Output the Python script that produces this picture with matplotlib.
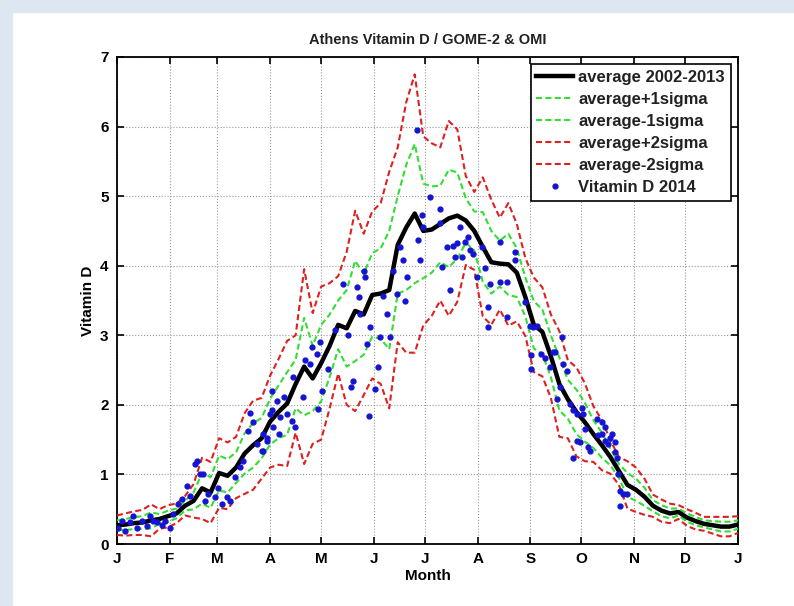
import matplotlib
matplotlib.use("Agg")
import matplotlib.pyplot as plt
import numpy as np

plt.rcParams['font.family'] = ['Liberation Sans', 'DejaVu Sans']

# average 2002-2013 and its sigma, read every 5 days (day of year)
days = list(range(0, 366, 5))
avg = [0.27, 0.28, 0.30, 0.31, 0.34, 0.36, 0.40, 0.44, 0.55, 0.62,
       0.80, 0.74, 1.02, 0.98, 1.10, 1.30, 1.42, 1.52, 1.76, 1.90,
       2.02, 2.30, 2.55, 2.38, 2.60, 2.85, 3.15, 3.10, 3.35, 3.30,
       3.58, 3.60, 3.65, 4.30, 4.55, 4.75, 4.50, 4.52, 4.60, 4.68,
       4.72, 4.65, 4.50, 4.27, 4.05, 4.03, 4.02, 3.90, 3.55, 3.15,
       3.05, 2.70, 2.30, 2.08, 1.90, 1.75, 1.58, 1.42, 1.25, 1.05,
       0.85, 0.78, 0.68, 0.55, 0.48, 0.44, 0.46, 0.38, 0.33, 0.29,
       0.27, 0.25, 0.25, 0.28]
sigma = [0.07, 0.08, 0.085, 0.09, 0.115, 0.07, 0.08, 0.07, 0.07, 0.12,
         0.22, 0.22, 0.25, 0.24, 0.22, 0.29, 0.32, 0.29, 0.33, 0.38,
         0.45, 0.35, 0.70, 0.47, 0.55, 0.45, 0.35, 0.55, 0.72, 0.58,
         0.60, 0.65, 0.85, 0.70, 0.90, 1.00, 0.68, 0.62, 0.55, 0.70,
         0.62, 0.32, 0.28, 0.50, 0.45, 0.33, 0.44, 0.35, 0.28, 0.34,
         0.32, 0.30, 0.38, 0.28, 0.32, 0.28, 0.20, 0.18, 0.12, 0.10,
         0.17, 0.16, 0.13, 0.08, 0.08, 0.07, 0.05, 0.06, 0.06, 0.05,
         0.06, 0.07, 0.07, 0.06]

# Vitamin D 2014 daily values (day of year, value)
d2014 = [0.8, 2.8, 4.7, 7.6, 9.6, 11.6, 14.5, 17.5, 19.4, 21.3, 23.3, 26.3,
         28.2, 31.2, 33.1, 36, 38, 41, 43, 45.8, 46.8, 48.8, 50.7, 51.7,
         53.7, 57.6, 59.6, 61.5, 64.4, 66.4, 69.4, 72.3, 74.2, 77.2, 78.2,
         80, 82, 85, 86, 86, 88, 88, 90, 91, 91, 91.9,
         93.9, 95, 96, 97.9, 99.7, 102.6, 103.6, 104.6, 109.5, 110.5, 113.4,
         114.4, 117.4, 118.3, 119.3, 120.3, 124.2, 128.2, 133, 136, 137.3,
         139, 141, 142, 143, 145, 146, 147, 148, 148.7, 151.6, 153.6, 154.6,
         156.5, 158.5, 160.4, 162.4, 164.4, 166.3, 168.3, 169.3, 170.3,
         176.2, 177.2, 178.1, 179.1, 180.1, 184, 190, 190, 190.9, 193.8,
         195.8, 197.7, 198.7, 199.7, 201.6, 202.6, 204.5, 206.5, 207.5,
         209.4, 211.4, 214.3, 216.3, 218.2, 218.2, 219.2, 225.1, 225.1,
         229, 229, 233.9, 233.9, 239.8, 242.7, 243.6, 243.6, 244.6, 246.6,
         249.5, 251.4, 254.4, 256.3, 257.3, 258.4, 260.4, 261.3, 262.3,
         264.3, 266.2, 268.2, 268.2, 270.2, 270.2, 272.1, 273.1, 274.1,
         275, 277, 278, 282, 283, 284.9, 284.9, 286.8, 286.8, 288.8,
         289.8, 290.7, 292.7, 292.7, 293.7, 294.7, 295.7, 295.7, 297.6,
         299.6]
v2014 = [0.23, 0.33, 0.19, 0.31, 0.40, 0.23, 0.33, 0.26, 0.40, 0.33, 0.31,
         0.28, 0.33, 0.23, 0.43, 0.57, 0.64, 0.84, 0.69, 1.15, 1.20, 1.00,
         1.00, 0.62, 0.72, 0.67, 0.81, 0.57, 0.67, 0.62, 0.96, 1.10, 1.20,
         1.63, 1.89, 1.75, 1.44, 1.34, 1.58, 1.34, 1.53, 1.48, 1.87, 2.20,
         1.92, 1.68,
         2.06, 1.58, 1.82, 2.11, 1.87, 1.77, 2.40, 1.68, 2.11, 2.64, 2.59,
         2.83, 2.73, 1.94, 2.90, 2.20, 2.52, 3.07, 3.74, 3.00, 2.25,
         2.35, 3.69, 3.55, 3.31, 3.93, 3.84, 2.88, 1.84, 3.12, 2.23, 2.54, 2.97,
         3.57, 3.31, 2.97, 3.93, 3.60, 4.27, 4.08, 3.50, 3.84,
         5.95, 4.37, 4.08, 4.73, 4.56, 4.99, 4.82, 4.61, 3.98, 4.27,
         3.65, 4.29, 4.13, 4.32, 4.56, 4.13, 4.34, 4.41, 4.22,
         4.17, 3.84, 4.27, 3.96, 3.40, 3.12, 3.74, 4.34, 3.77,
         3.77, 3.26, 4.08, 4.20, 3.48, 3.14, 2.71, 2.52, 3.12, 3.14,
         2.73, 2.68, 2.54, 2.76, 2.76, 2.08, 2.25, 2.97, 2.59,
         2.49, 2.01, 1.92, 1.24, 1.87, 1.48, 1.46, 1.96, 1.87,
         1.65, 1.39, 1.34, 1.80, 1.56, 1.75, 1.58, 1.68, 1.48, 1.44,
         1.53, 1.58, 1.46, 1.32, 1.24, 1.00, 0.76, 0.55, 0.72,
         0.72]

month_starts = [0, 31, 59, 90, 120, 151, 181, 212, 243, 273, 304, 334, 365]
month_labels = ['J', 'F', 'M', 'A', 'M', 'J', 'J', 'A', 'S', 'O', 'N', 'D', 'J']

days = np.array(days)
avg = np.array(avg)
sigma = np.array(sigma)

fig = plt.figure(figsize=(7.94, 6.06), dpi=100)
fig.patch.set_facecolor('white')
# light blue frame on left and top
fig.patches.append(plt.Rectangle((0, 0), 12 / 794, 1, transform=fig.transFigure,
                                 color='#dde7f2', zorder=0))
fig.patches.append(plt.Rectangle((0, 1 - 12 / 606), 1, 12 / 606, transform=fig.transFigure,
                                 color='#dde7f2', zorder=0))

ax = fig.add_axes([117 / 794, 1 - 544 / 606, 621 / 794, 487 / 606])

dash = (0, (2.9, 1.6))
ax.plot(days, avg, color='black', lw=3.2, label='average 2002-2013', zorder=5)
ax.plot(days, avg + sigma, ls=dash, color='#33dd33', lw=1.5, label='average+1sigma', zorder=4)
ax.plot(days, avg - sigma, ls=dash, color='#33dd33', lw=1.5, label='average-1sigma', zorder=4)
ax.plot(days, avg + 2 * sigma, ls=dash, color='#dd2020', lw=1.5, label='average+2sigma', zorder=3)
ax.plot(days, avg - 2 * sigma, ls=dash, color='#dd2020', lw=1.5, label='average-2sigma', zorder=3)
ax.plot(d2014, v2014, '.', color='#1414d2', ms=7, label='Vitamin D 2014', zorder=6)

ax.set_xlim(0, 365)
ax.set_ylim(0, 7)
ax.set_xticks(month_starts)
ax.set_xticklabels(month_labels)
ax.set_yticks(range(8))
ax.grid(True, linestyle=':', color='#999999', lw=0.8)
ax.tick_params(direction='in', top=True, right=True, length=5, width=1.2,
               labelsize=11, pad=6)
for lab in ax.get_xticklabels() + ax.get_yticklabels():
    lab.set_fontweight('bold')
for sp in ax.spines.values():
    sp.set_linewidth(1.3)

ax.set_title('Athens Vitamin D / GOME-2 & OMI', fontsize=10.5, fontweight='bold',
             color='#222222', pad=9)
ax.set_xlabel('Month', fontsize=11, fontweight='bold', labelpad=2)
ax.set_ylabel('Vitamin D', fontsize=11, fontweight='bold', labelpad=4)

leg = ax.legend(loc='upper right', fancybox=False, framealpha=1, edgecolor='black',
                prop={'size': 12, 'weight': 'bold'}, handlelength=2.2,
                borderaxespad=0.45, labelspacing=0.42, handletextpad=0.3,
                borderpad=0.35)
leg.get_frame().set_linewidth(1.2)
for t in leg.get_texts():
    t.set_color('#222222')

fig.savefig('out.png', dpi=100)
